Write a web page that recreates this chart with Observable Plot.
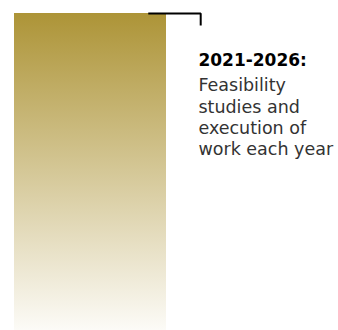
<!DOCTYPE html>
<html><head><meta charset="utf-8">
<script src="https://cdn.jsdelivr.net/npm/d3@7"></script>
<script src="https://cdn.jsdelivr.net/npm/@observablehq/plot@0.6"></script>
<style>
body{margin:0;background:#fff}
</style>
</head><body><div id="chart"></div>
<script>
const periods = ["2021-2026"];
const starts = [0];
const ends = [1];
const values = [100];
const noteTitle = ["2021-2026:"];
const noteBody = ["Feasibility\nstudies and\nexecution of\nwork each year"];
const bracketX = [0.88, 1.225, 1.225];
const bracketY = [100, 100, 96.2];

const bars = periods.map((p, i) => ({period: p, start: starts[i], end: ends[i], value: values[i]}));
const bracket = bracketX.map((x, i) => ({x, y: bracketY[i]}));

const defs = () => {
  const d = d3.create("svg:defs");
  const g = d.append("linearGradient").attr("id", "goldfade")
    .attr("x1", 0).attr("y1", 0).attr("x2", 0).attr("y2", 1);
  g.append("stop").attr("offset", "0%").attr("stop-color", "#ad9437");
  g.append("stop").attr("offset", "100%").attr("stop-color", "#fcfbf7");
  return d.node();
};

const chart = Plot.plot({
  width: 338, height: 330,
  marginLeft: 14, marginRight: 172, marginTop: 13, marginBottom: 0,
  x: {axis: null, domain: [0, 1]},
  y: {axis: null, domain: [0, 100]},
  marks: [
    defs,
    Plot.rectY(bars, {x1: "start", x2: "end", y: "value", fill: "url(#goldfade)"}),
    Plot.line(bracket, {x: "x", y: "y", stroke: "#000", strokeWidth: 2, strokeLinejoin: "miter", strokeLinecap: "butt"}),
    Plot.text(noteTitle, {x: () => 1.21, y: () => 100, text: d => d, textAnchor: "start", lineAnchor: "top", dy: 40, fontSize: 17, fontWeight: "bold", fill: "#000", fontFamily: "DejaVu Sans"}),
    Plot.text(noteBody, {x: () => 1.21, y: () => 100, text: d => d, textAnchor: "start", lineAnchor: "top", dy: 62.6, lineHeight: 1.217, fontSize: 17.5, fill: "#333", fontFamily: "DejaVu Sans"})
  ]
});
document.getElementById("chart").append(chart);
</script>
</body></html>
